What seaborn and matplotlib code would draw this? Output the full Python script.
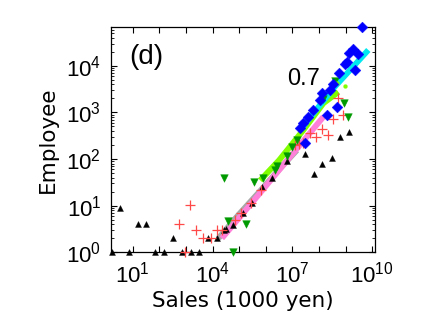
import numpy as np
import pandas as pd
import matplotlib
matplotlib.use("Agg")
import matplotlib.pyplot as plt
import matplotlib.ticker as mticker
import seaborn as sns

# ---- data ----
black_x = [3.3, 15.5, 32, 316, 1.6, 7.2, 69, 148, 692, 1510, 3090, 6600, 14500, 31600,
           27500, 60000, 1.45e5, 3.16e5, 7.1e5, 1.66e6, 6.2e6, 2.95e7, 6.6e7, 1.35e8, 3.0e8, 6.2e8, 1.32e9]
black_y = [9.1, 4.0, 4.0, 2.0, 1, 1, 1, 1, 1, 1, 1, 2.0, 2.0, 3.1,
           3.0, 3.9, 6.9, 11.2, 25, 39, 91, 129, 48, 79, 105, 295, 380]

red_x = [560, 1410, 2400, 4270, 8500, 930, 15100, 22400, 70800, 1.17e5, 2.8e5, 6.6e5,
         1.26e7, 1.82e7, 2.45e7, 4.7e7, 7.8e7, 1.29e8, 2.14e8, 3.3e8, 5.4e8, 8.3e8]
red_y = [4.0, 10.2, 3.0, 2.0, 2.0, 1, 3.0, 3.0, 4.9, 7.1, 11.2, 21.9,
         200, 209, 224, 355, 302, 437, 324, 724, 2040, 870]

green_x = [26900, 3.6e5, 37200, 1.78e5, 57500, 7.8e5, 2.2e6, 2.57e6, 6.2e6, 1.0e7, 1.48e7,
           1.38e8, 4.1e8, 8.7e8, 1.29e9]
green_y = [40, 32, 4.7, 4.1, 1, 40, 57, 71, 115, 182, 257,
           1950, 4680, 1620, 813]

blue_x = [4.1e9, 1.86e9, 1.38e9, 3.0e9, 2.3e9, 1.12e9, 5.9e8, 2.6e8, 1.29e8, 4.7e8, 1.95e8,
          3.0e7, 1.95e7, 2.57e7, 4.0e7, 6.2e7, 1.1e8, 3.5e8, 9.5e8]
blue_y = [69000, 23400, 18600, 17800, 8100, 12300, 7100, 3090, 2630, 1290, 870,
          219, 468, 589, 813, 1120, 1820, 4170, 11200]

gray_x = [16600, 1.0e5, 6.3e5, 3.2e6, 1.48e7]
gray_y = [2.0, 6.6, 21, 60, 155]
pink_x = [22400, 4.0e5, 6.3e6, 1.48e8]
pink_y = [2.0, 14, 93, 810]
yg_x = [6.2e5, 3.2e6, 2.57e7, 1.48e8, 5.4e8]
yg_y = [35, 95, 417, 1580, 2750]
yg_dot_x = [4.7e8, 9.5e8]
yg_dot_y = [4360, 3630]
cyan_x = [1.95e7, 3.5e8, 7.2e9]
cyan_y = [417, 3300, 21900]

x_tick_labels = {1: "10^{1}", 4: "10^{4}", 7: "10^{7}", 10: "10^{10}"}

# ---- style ----
sns.set_theme(style="ticks")
plt.rcParams['font.family'] = ['Liberation Sans', 'DejaVu Sans']
plt.rcParams['mathtext.fontset'] = 'custom'
plt.rcParams['mathtext.rm'] = 'Liberation Sans'
plt.rcParams['mathtext.it'] = 'Liberation Sans'
plt.rcParams['mathtext.bf'] = 'Liberation Sans'
plt.rcParams['text.color'] = 'black'
plt.rcParams['axes.labelcolor'] = 'black'
plt.rcParams['xtick.color'] = 'black'
plt.rcParams['ytick.color'] = 'black'

fig = plt.figure(figsize=(4.36, 3.28), dpi=100)
ax = fig.add_axes([111/436, 1-252.3/328, 264.3/436, 225.6/328])
ax.set_xscale('log')
ax.set_yscale('log')

def band(x, y, color):
    df = pd.DataFrame({'x': x, 'y': y})
    sns.lineplot(data=df, x='x', y='y', ax=ax, color=color, lw=4.2, sort=False,
                 estimator=None, solid_capstyle='butt', legend=False)

def pts(x, y, **kw):
    df = pd.DataFrame({'x': x, 'y': y})
    sns.scatterplot(data=df, x='x', y='y', ax=ax, legend=False, clip_on=False, **kw)

pts(black_x, black_y, marker='^', s=18, color='black', edgecolor='black', linewidth=0.3, zorder=3)
band(gray_x, gray_y, '#a8a8a8')
band(pink_x, pink_y, '#ff80d8')
pts(red_x, red_y, marker='+', s=60, color='#ff4848', linewidth=0.9, zorder=4)
pts(green_x, green_y, marker='v', s=30, color='#009a00', edgecolor='#009a00', linewidth=0.3, zorder=4)
band(yg_x, yg_y, '#80ff00')
pts(yg_dot_x, yg_dot_y, marker='o', s=8, color='#80ff00', edgecolor='#80ff00', zorder=4)
band(cyan_x, cyan_y, '#00e8f0')
pts(blue_x, blue_y, marker='D', s=30, color='#0000ff', edgecolor='#0000ff', linewidth=0.3, zorder=5)

ax.set_xlim(10**0.18, 10**10.12)
ax.set_ylim(1, 10**4.84)

ax.xaxis.set_major_locator(mticker.FixedLocator([10.0**k for k in range(1, 11)]))
ax.xaxis.set_minor_locator(mticker.NullLocator())
def xfmt(v, pos):
    k = int(round(np.log10(v)))
    return r'$\mathregular{%s}$' % x_tick_labels[k] if k in x_tick_labels else ''
ax.xaxis.set_major_formatter(mticker.FuncFormatter(xfmt))

ax.yaxis.set_major_locator(mticker.FixedLocator([10.0**k for k in range(0, 5)]))
ax.yaxis.set_minor_locator(mticker.LogLocator(base=10, subs=np.arange(2, 10), numticks=20))
ax.yaxis.set_major_formatter(mticker.FuncFormatter(
    lambda v, p: r'$\mathregular{10^{%d}}$' % int(round(np.log10(v)))))

ax.tick_params(which='both', direction='in', top=True, right=True, colors='black')
ax.tick_params(which='major', length=4.5, width=0.8, labelsize=16, pad=7)
ax.tick_params(which='minor', length=2.2, width=0.6)
for sp in ax.spines.values():
    sp.set_linewidth(0.9)
    sp.set_color('black')

ax.set_xlabel('Sales (1000 yen)', fontsize=15.5, family='DejaVu Sans', labelpad=2, color='black')
ax.set_ylabel('Employee', fontsize=15.5, family='DejaVu Sans', labelpad=6, color='black')

ax.text(0.132, 0.866, '(d)', transform=ax.transAxes, fontsize=20, ha='center', va='center', color='black')
ax.text(0.73, 0.77, '0.7', transform=ax.transAxes, fontsize=17, ha='center', va='center', color='black')

fig.savefig('out.png', dpi=100)
